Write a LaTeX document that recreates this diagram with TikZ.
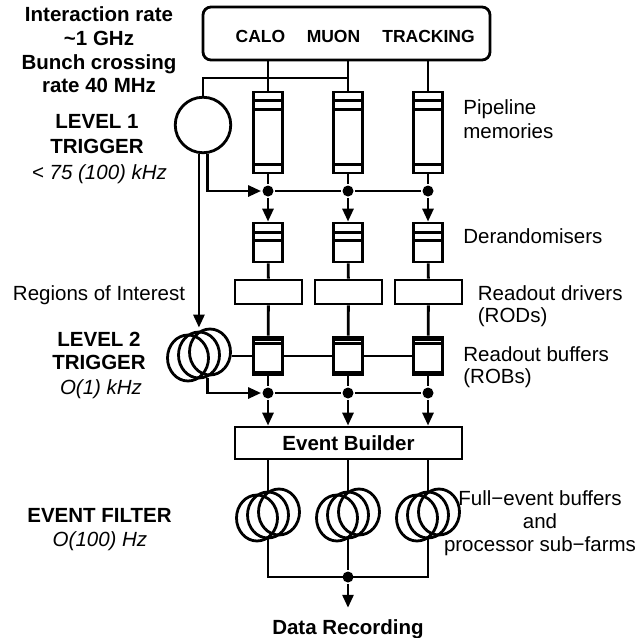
\documentclass[tikz,border=0pt]{standalone}
\usepackage{fontspec}
\setmainfont{Liberation Sans}
\usetikzlibrary{shapes.geometric,arrows.meta}

\begin{document}
\begin{tikzpicture}
[x=1pt, y=-1pt, line width=2.8pt,
 every node/.style={inner sep=0pt, font=\fontsize{20.5}{24}\selectfont},
 box/.style={rectangle, draw=black, fill=white, minimum width=29pt},
 rodbox/.style={rectangle, draw=black, fill=white, minimum width=67pt, minimum height=24pt},
 coil/.style={ellipse, draw=black, minimum width=41pt, minimum height=46pt},
 dot/.style={circle, fill=black, minimum size=11pt},
 arr/.style={-{Triangle[length=13pt,width=11pt]}},
 det label/.style={anchor=base, font=\fontsize{17.5}{21}\selectfont\bfseries},
 title/.style={align=center, font=\fontsize{20.5}{24}\selectfont\bfseries},
 bold/.style={font=\fontsize{20.5}{24}\selectfont\bfseries},
 rate/.style={anchor=base, font=\fontsize{20.5}{24}\selectfont\itshape},
 note/.style={anchor=west, align=left}]
\useasboundingbox (0,0) rectangle (638,638);

% detectors
\node (det) [rectangle, rounded corners=8pt, draw=black, minimum width=287pt, minimum height=53pt] at (346.5,33.5) {};
\node (calo) [det label] at (260.5,42) {CALO};
\node (muon) [det label] at (333.5,42) {MUON};
\node (trk) [det label] at (428.5,42) {TRACKING};

% level 1 and event builder
\node (lvlone) [circle, draw=black, minimum size=55.5pt] at (203,125) {};
\coordinate (tap) at (348,78);
\draw (lvlone.north) |- (tap);
\node (eb) [rectangle, draw=black, minimum width=227pt, minimum height=32pt, bold] at (348.5,443) {Event Builder};

% level 2
\node (lvltwol) [coil] at (188,358) {};
\node (lvltwo) [coil] at (199,355) {};
\node (lvltwor) [coil] at (210,352) {};

\foreach \x/\n in {268/a,348/b,428/c}{
  \node (pipe\n) [box, minimum height=81pt] at (\x,132.5) {};
  \draw ([yshift=-10pt]pipe\n.north west) -- ([yshift=-10pt]pipe\n.north east);
  \draw ([yshift=-19pt]pipe\n.north west) -- ([yshift=-19pt]pipe\n.north east);
  \draw ([yshift=10pt]pipe\n.south west) -- ([yshift=10pt]pipe\n.south east);
  \draw (det.south -| pipe\n) -- (pipe\n);
  \node (acc\n) [dot] at (\x,191) {};
  \draw (pipe\n) -- (acc\n);
  \node (der\n) [box, minimum height=39pt] at (\x,242.5) {};
  \draw ([yshift=-11pt]der\n.north west) -- ([yshift=-11pt]der\n.north east);
  \draw ([yshift=-19pt]der\n.north west) -- ([yshift=-19pt]der\n.north east);
  \draw[arr] (acc\n) -- (der\n);
  \node (rod\n) [rodbox] at ({\x+0.5},292) {};
  \draw (der\n) -- (rod\n);
  \node (rob\n) [box, minimum height=38pt] at (\x,356) {};
  \draw ([yshift=-4pt]rob\n.north west) -- ([yshift=-4pt]rob\n.north east);
  \draw ([yshift=-8pt]rob\n.north west) -- ([yshift=-8pt]rob\n.north east);
  \draw ([yshift=4pt]rob\n.south west) -- ([yshift=4pt]rob\n.south east);
  \draw (rod\n) -- (rob\n);
  \node (rej\n) [dot] at (\x,393) {};
  \draw (rob\n) -- (rej\n);
  \draw[arr] (rej\n) -- (eb.north -| rej\n);
  % event filter
  \node (efl\n) [coil] at ({\x-11},518) {};
  \node (efm\n) [coil] at (\x,515) {};
  \node (efr\n) [coil] at ({\x+11},512) {};
  \draw (eb.south -| efm\n) -- (efm\n.north);
}

\draw (acca) -- (accb);
\draw (accb) -- (accc);
\draw[arr] (lvlone.-81) |- (acca);
\draw[arr] (lvlone.-98) -- (lvlone.-98 |- lvltwor.north);
\draw (lvltwor.east |- roba) -- (roba);
\draw (roba) -- (robb);
\draw (robb) -- (robc);
\draw[arr] (lvltwo.-70) |- (reja);
\draw (reja) -- (rejb);
\draw (rejb) -- (rejc);

% output
\coordinate (outa) at (268,577);
\node (outb) [dot] at (348,577) {};
\coordinate (outc) at (428,577);
\draw (efma.south) -- (outa) -- (outc) -- (efmc.south);
\draw (efmb.south) -- (outb);
\node (rec) [anchor=base, bold] at (348,634) {Data Recording};
\draw[arr] (outb) -- ([yshift=10pt]rec.north);

% left labels
\node (ratetxt) [title, font=\fontsize{20.5}{23.7}\selectfont\bfseries] at (99,50) {Interaction rate\\\textasciitilde1 GHz\\Bunch crossing\\rate 40 MHz};
\node (lvlonetxt) [title, font=\fontsize{20.5}{25}\selectfont\bfseries] at (97,134) {LEVEL 1\\TRIGGER};
\node (lvlonerate) [rate] at (99.5,179) {< 75 (100) kHz};
\node (roitxt) [anchor=base] at (99,300) {Regions of Interest};
\node (lvltwotxt) [title, font=\fontsize{20.5}{23}\selectfont\bfseries] at (99,351) {LEVEL 2\\TRIGGER};
\node (lvltworate) [rate] at (101,394) {O(1) kHz};
\node (eftxt) [anchor=base, bold] at (99.5,522) {EVENT FILTER};
\node (efrate) [rate] at (100,546) {O(100) Hz};

% right labels
\node (pipetxt) [note] at (462,119.5) {Pipeline\\memories};
\node (dertxt) [anchor=base west] at (462,243) {Derandomisers};
\node (rodtxt) [note, font=\fontsize{20.5}{22}\selectfont] at (476.5,305.7) {Readout drivers\\(RODs)};
\node (robtxt) [note, font=\fontsize{20.5}{22}\selectfont] at (462,367) {Readout buffers\\(ROBs)};
\node (farmtxt) [align=center, font=\fontsize{20.5}{23}\selectfont] at (540,523.6) {Full−event buffers\\and\\processor sub−farms};
\end{tikzpicture}
\end{document}
